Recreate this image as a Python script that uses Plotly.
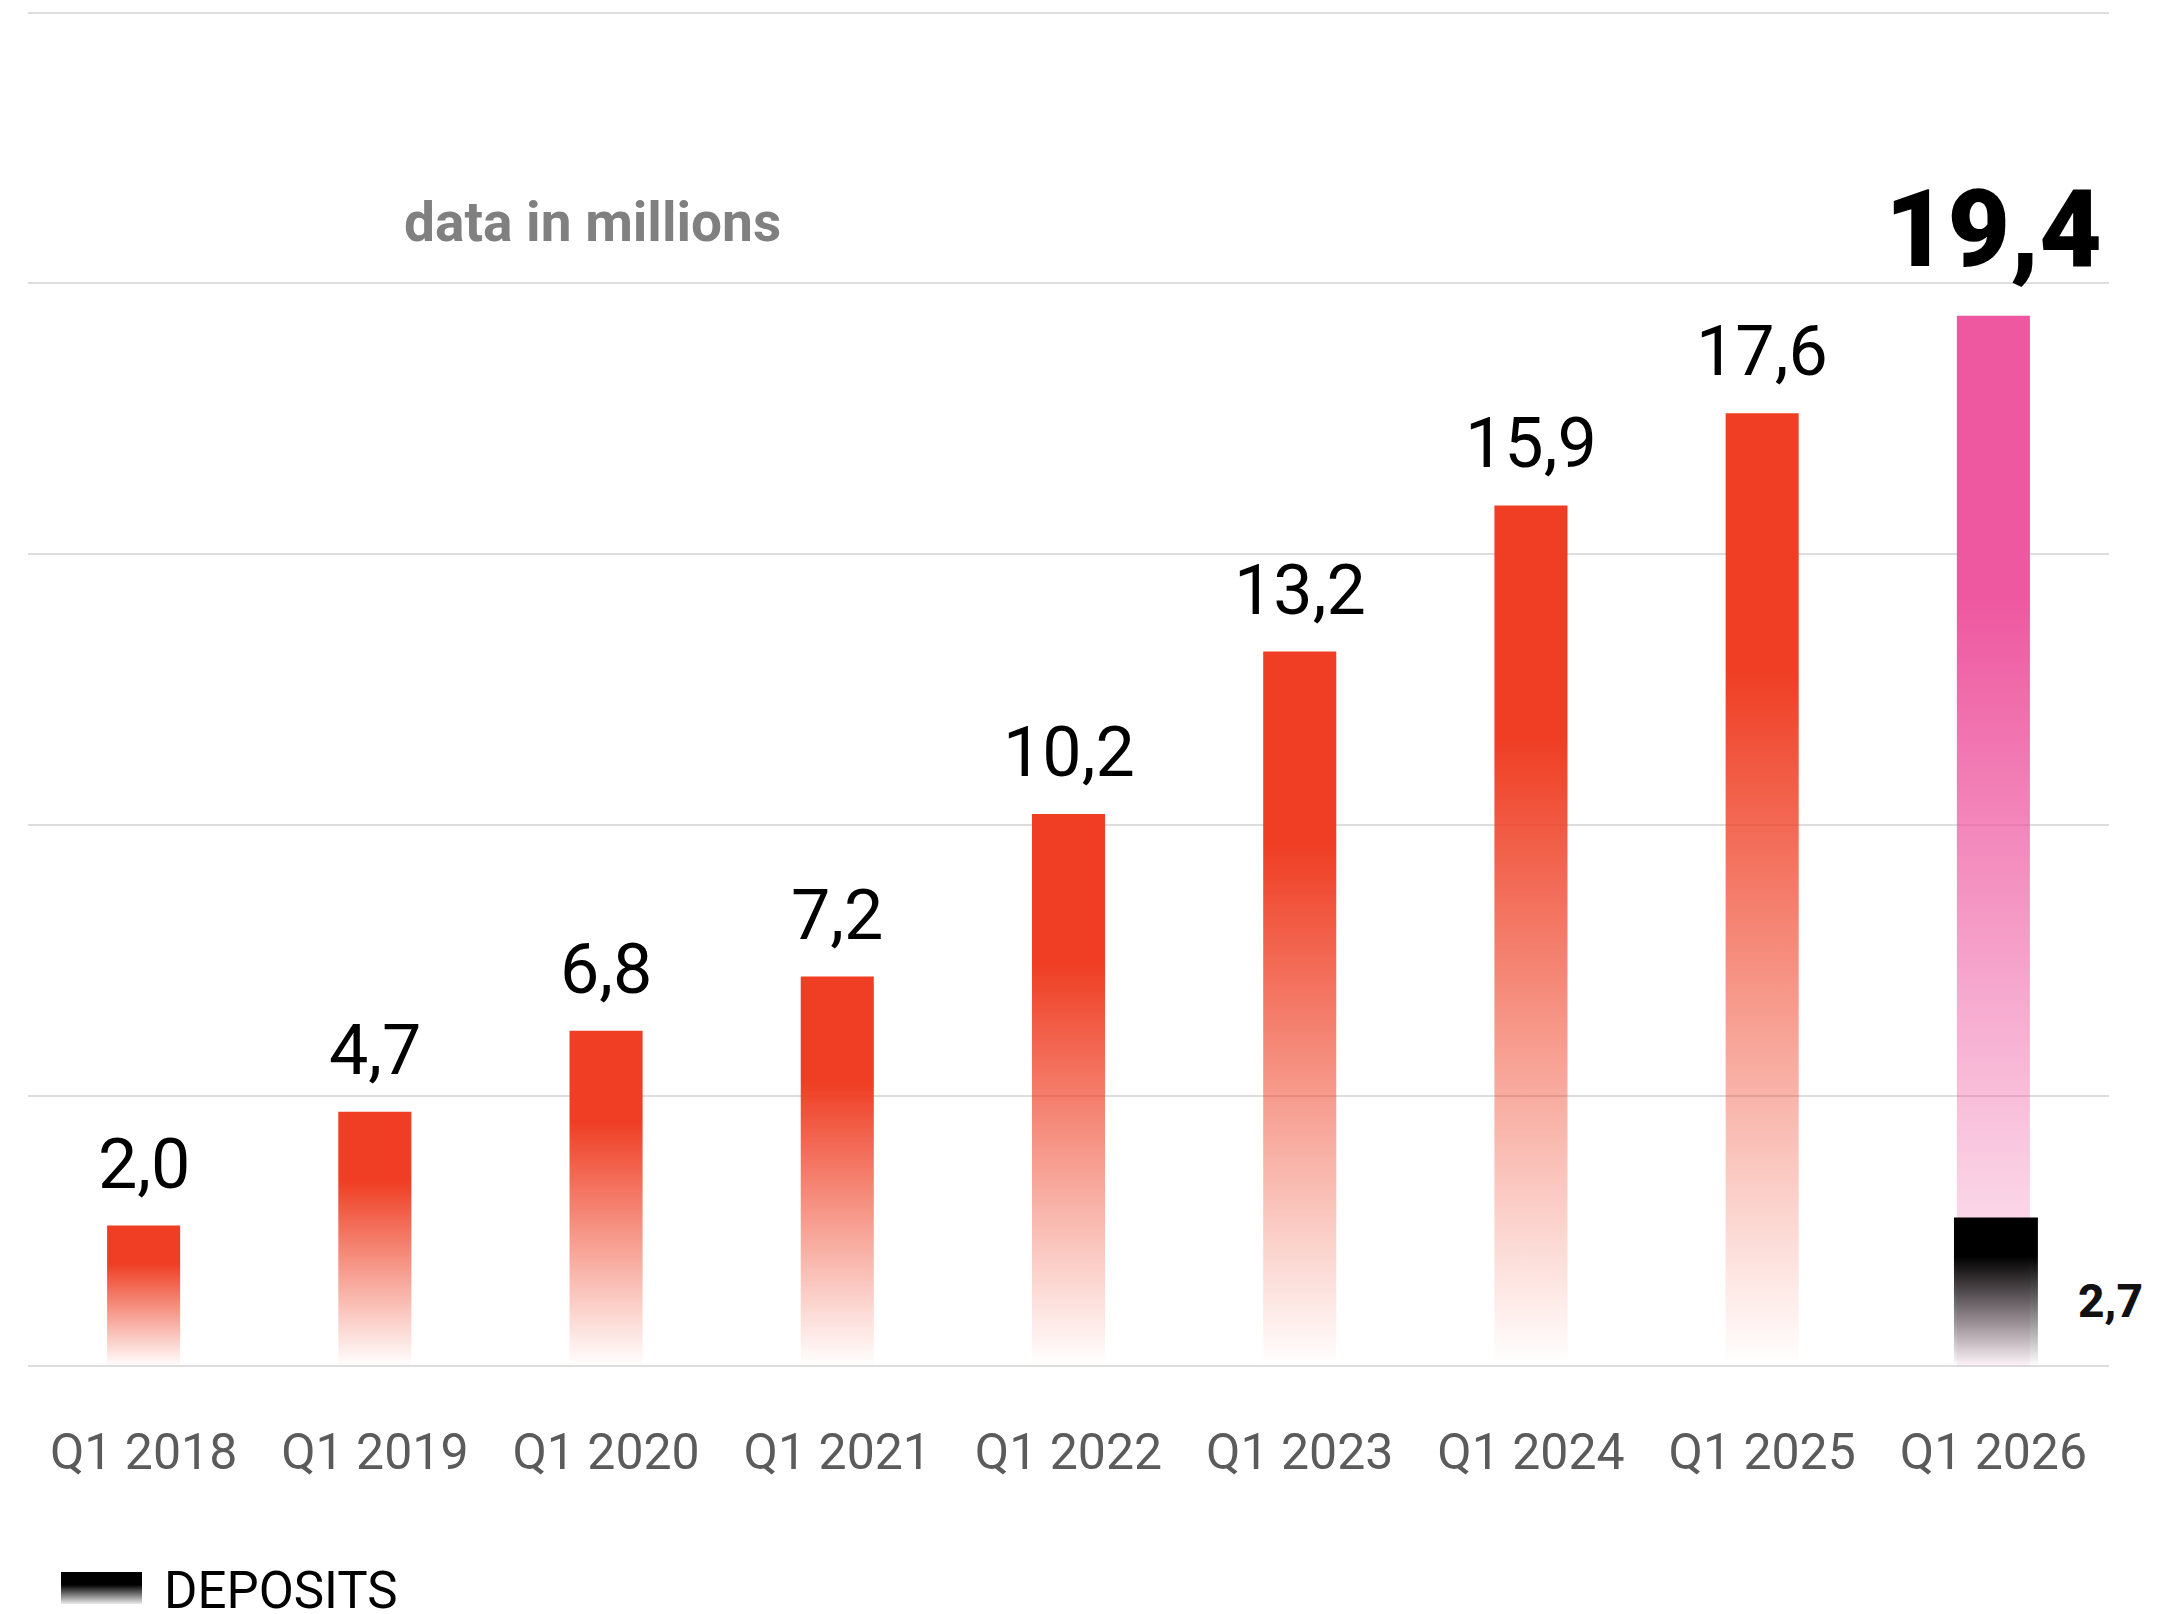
import plotly.graph_objects as go

# ---------------- data ----------------
categories = ["Q1 2018", "Q1 2019", "Q1 2020", "Q1 2021", "Q1 2022",
              "Q1 2023", "Q1 2024", "Q1 2025", "Q1 2026"]
value_labels = ["2,0", "4,7", "6,8", "7,2", "10,2", "13,2", "15,9", "17,6", "19,4"]
# bar heights as drawn in the picture (millions)
bar_heights = [2.6, 4.7, 6.2, 7.2, 10.2, 13.2, 15.9, 17.6, 19.4]
deposits_label = "2,7"
deposits_height = 2.75
legend_label = "DEPOSITS"
note_text = "data in millions"

# ---------------- style ----------------
RED = "rgb(239,62,35)"
PINK = "rgb(238,88,160)"
W, H = 2175, 1614
OFF = 8  # page body margin offset
ML, MR, MT, MB = 28 - OFF, 2175 - (2109 - OFF), 11 - OFF, 0
plot_h = H - MT - MB
main_bottom_px = 1368 - OFF
dom_y0 = (H - main_bottom_px) / plot_h
bar_w = 0.316
dep_w = 0.363
FONT = "Roboto"

fig = go.Figure()

def rect(xc, w, h):
    return [xc - w / 2, xc + w / 2, xc + w / 2, xc - w / 2, xc - w / 2], [0, 0, h, h, 0]

n = len(categories)
for i, h in enumerate(bar_heights):
    last = i == n - 1
    col = PINK if last else RED
    base = "rgba(238,88,160,0.06)" if last else "rgba(239,62,35,0.0)"
    xs, ys = rect(i, bar_w, h)
    fig.add_trace(go.Scatter(
        x=xs, y=ys, mode="lines", fill="toself", line=dict(width=0),
        fillgradient=dict(type="vertical", start=0, stop=h,
                          colorscale=[[0, base], [0.73, col], [1, col]]),
        hoverinfo="skip", showlegend=False))

# deposits bar
xs, ys = rect(n - 1 + 0.011, dep_w, deposits_height)
fig.add_trace(go.Scatter(
    x=xs, y=ys, mode="lines", fill="toself", line=dict(width=0),
    fillgradient=dict(type="vertical", start=0, stop=deposits_height,
                      colorscale=[[0, "rgba(0,0,0,0)"], [0.74, "black"], [1, "black"]]),
    hoverinfo="skip", showlegend=False))

# legend swatch on its own small axes
sx0, sx1, sy0, sy1 = 61, 142, 1572, 1604
fig.add_trace(go.Scatter(
    x=[0, 1, 1, 0, 0], y=[0, 0, 1, 1, 0], mode="lines", fill="toself",
    line=dict(width=0), xaxis="x2", yaxis="y2",
    fillgradient=dict(type="vertical", start=0, stop=1,
                      colorscale=[[0, "rgba(0,0,0,0.08)"], [0.6, "black"], [1, "black"]]),
    hoverinfo="skip", showlegend=False))

pw = W - ML - MR
def px_x(p):
    return (p - OFF - ML) / pw
def px_y(p):
    return (H - MB - (p - OFF)) / plot_h

annotations = []
for i, (h, lab) in enumerate(zip(bar_heights, value_labels)):
    last = i == n - 1
    annotations.append(dict(
        x=i, y=h, xref="x", yref="y", text=lab, showarrow=False,
        xanchor="center", yanchor="bottom",
        yshift=22 if last else 19,
        font=dict(family=FONT, size=108 if last else 70, color="black",
                  weight=900 if last else 400)))

annotations.append(dict(
    x=n - 0.5, y=deposits_height / 2, xref="x", yref="y", text=deposits_label,
    showarrow=False, xanchor="center", yanchor="middle", yshift=-9, xshift=1,
    font=dict(family=FONT, size=46, color="#111111", weight=800)))

annotations.append(dict(
    x=px_x(592), y=px_y(222), xref="paper", yref="paper", text=note_text,
    showarrow=False, xanchor="center", yanchor="middle",
    font=dict(family=FONT, size=55, color="#808080", weight=700)))

annotations.append(dict(
    x=px_x(162), y=px_y(1590), xref="paper", yref="paper", text=legend_label,
    showarrow=False, xanchor="left", yanchor="middle",
    font=dict(family=FONT, size=51, color="black")))

fig.update_layout(
    width=W, height=H,
    margin=dict(l=ML, r=MR, t=MT, b=MB, pad=0, autoexpand=False),
    paper_bgcolor="white", plot_bgcolor="white",
    showlegend=False,
    xaxis=dict(range=[-0.5, n - 0.5], tickvals=list(range(n)), ticktext=categories,
               showgrid=False, zeroline=False, showline=False, ticks="",
               ticklabelstandoff=50,
               tickfont=dict(family=FONT, size=50, color="#5b5b5b"),
               fixedrange=True),
    yaxis=dict(range=[-0.03, 25.03], dtick=5, tick0=0, domain=[dom_y0, 1],
               showgrid=True, gridcolor="#dddddd", gridwidth=2,
               zeroline=False, showticklabels=False, ticks="", fixedrange=True),
    xaxis2=dict(domain=[px_x(sx0), px_x(sx1)], range=[0, 1], anchor="y2",
                visible=False, fixedrange=True),
    yaxis2=dict(domain=[px_y(sy1), px_y(sy0)], range=[0, 1], anchor="x2",
                visible=False, fixedrange=True),
    annotations=annotations,
)

fig.write_html("out.html")
